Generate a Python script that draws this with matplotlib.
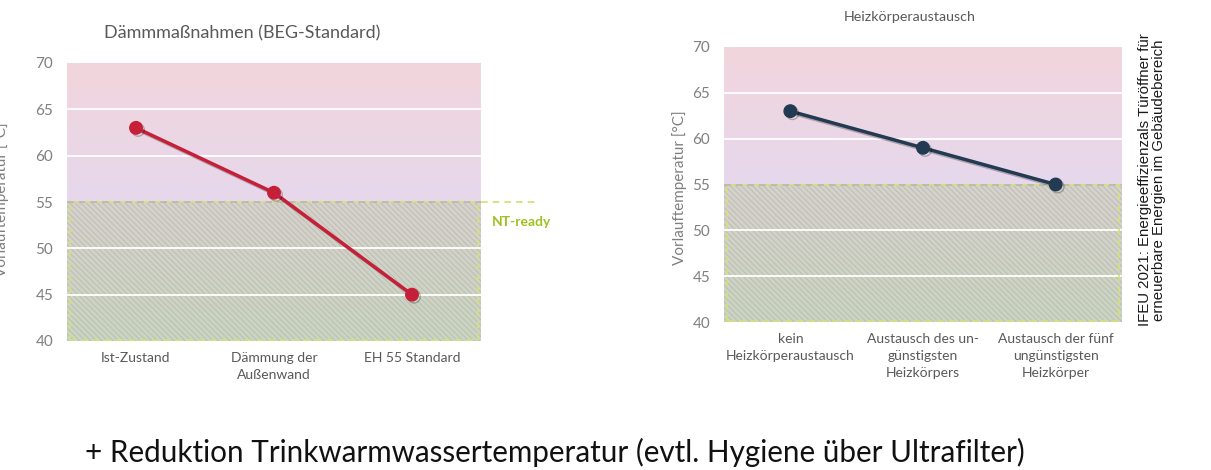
import numpy as np
import matplotlib.pyplot as plt
from matplotlib.patches import Rectangle
from matplotlib.colors import LinearSegmentedColormap
import matplotlib.patheffects as pe

plt.rcParams['font.family'] = ['Lato', 'DejaVu Sans']

# data
left_cats = ['Ist-Zustand', 'Dämmung der\nAußenwand', 'EH 55 Standard']
left_vals = [63, 56, 45]
right_cats = ['kein\nHeizkörperaustausch', 'Austausch des un-\ngünstigsten\nHeizkörpers',
              'Austausch der fünf\nungünstigsten\nHeizkörper']
right_vals = [63, 59, 55]
yticks = [40, 45, 50, 55, 60, 65, 70]
nt_limit = 55

W, H = 1211, 470
fig = plt.figure(figsize=(W / 100, H / 100), dpi=100)

upper_cmap = LinearSegmentedColormap.from_list('up', ['#e6d8ec', '#f2d5dc'])
lower_cmap = LinearSegmentedColormap.from_list('low', ['#c8d6c0', '#d6d1cc'])


def panel(rect, cats, vals, color):
    ax = fig.add_axes(rect)
    n = len(cats)
    x = np.arange(n)
    ax.set_xlim(-0.5, n - 0.5)
    ax.set_ylim(40, 70)
    grad = np.linspace(0, 1, 100).reshape(-1, 1)
    ax.imshow(grad, extent=[-0.5, n - 0.5, nt_limit, 70], origin='lower',
              cmap=upper_cmap, aspect='auto', zorder=0)
    ax.imshow(grad, extent=[-0.5, n - 0.5, 40, nt_limit], origin='lower',
              cmap=lower_cmap, aspect='auto', zorder=0)
    plt.rcParams['hatch.color'] = '#bdb8b2'
    plt.rcParams['hatch.linewidth'] = 0.6
    ax.add_patch(Rectangle((-0.5, 40), n, nt_limit - 40, facecolor='none',
                           hatch='\\\\\\\\\\\\', edgecolor='#bdb8b2', lw=0, zorder=1))
    ax.add_patch(Rectangle((-0.48, 40.15), n - 0.04, nt_limit - 40.15, facecolor='none',
                           edgecolor='#d6e07a', lw=1.2, ls=(0, (4, 3)), zorder=2))
    for g in [45, 50, 60, 65]:
        ax.axhline(g, color='white', lw=1.3, zorder=1.5)
    ax.axhline(nt_limit, color='#b8b8a8', lw=1.2, ls=(0, (4, 3)), zorder=2)
    ax.plot(x, vals, color=color, lw=2.5, marker='o', ms=9, zorder=5,
            path_effects=[pe.SimpleLineShadow(offset=(1.5, -1.5), alpha=0.25), pe.Normal()])
    ax.set_xticks(x)
    ax.set_xticklabels(cats, fontsize=10, color='#595959', linespacing=1.5)
    ax.set_yticks(yticks)
    ax.tick_params(axis='y', labelsize=11, colors='#7f7f7f', length=0, pad=10)
    ax.tick_params(axis='x', length=0, pad=8)
    for s in ax.spines.values():
        s.set_visible(False)
    return ax


axL = panel([67 / W, 1 - 341 / H, 414 / W, 278 / H], left_cats, left_vals, '#c52038')
axR = panel([724 / W, 1 - 322 / H, 398 / W, 275 / H], right_cats, right_vals, '#223a52')

# NT-ready marker extending to the right of the left panel
axL.plot([1.0, 1.13], [nt_limit, nt_limit], transform=axL.get_yaxis_transform(),
         color='#d2df6a', lw=1.2, ls=(0, (4, 3)), clip_on=False)
axL.text(1.097, 52.8, 'NT-ready', transform=axL.get_yaxis_transform(), ha='center',
         va='center', fontsize=10, color='#9cc21e', fontweight='bold')

fig.text(242 / W, 1 - 33 / H, 'Dämmmaßnahmen (BEG-Standard)', ha='center', va='center',
         fontsize=13, color='#595959')
fig.text(910 / W, 1 - 17 / H, 'Heizkörperaustausch', ha='center', va='center',
         fontsize=10.3, color='#595959')

fig.text(2 / W, 1 - 200 / H, 'Vorlauftemperatur [°C]', rotation=90, ha='center', va='center',
         fontsize=11, color='#7f7f7f')
fig.text(680 / W, 1 - 188 / H, 'Vorlauftemperatur [°C]', rotation=90, ha='center', va='center',
         fontsize=11, color='#7f7f7f')

fig.text(1152 / W, 1 - 180 / H,
         'IFEU 2021: Energieeffizienzals Türöffner für\nerneuerbare Energien im Gebäudebereich',
         rotation=90, ha='center', va='center', fontsize=10.8, color='#1a1a1a',
         family=['Liberation Sans', 'DejaVu Sans'], linespacing=0.95)

fig.text(85 / W, 1 - 452 / H,
         '+ Reduktion Trinkwarmwassertemperatur (evtl. Hygiene über Ultrafilter)',
         ha='left', va='center', fontsize=21.3, color='#111111')

fig.savefig('out.png', dpi=100)
